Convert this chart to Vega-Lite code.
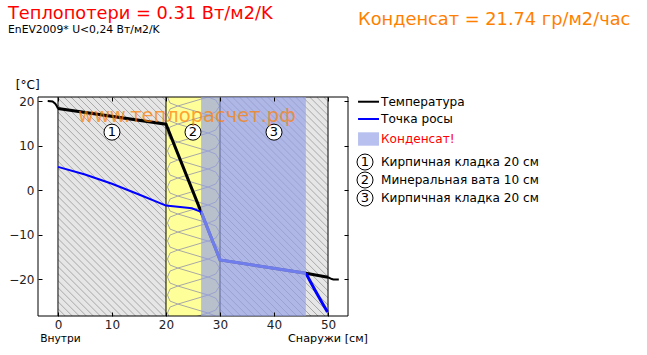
{
"$schema":"https://vega.github.io/schema/vega-lite/v6.json",
"width":310,"height":219,
"autosize":{"type":"none"},
"padding":{"left":38,"top":97,"right":299,"bottom":39},
"background":"white",
"config":{"view":{"stroke":null},"font":"DejaVu Sans"},
"datasets":{
"zones":[
{"m":"brick","x":0,"x2":20,"y":20.9,"y2":-28.3},
{"m":"brick","x":30,"x2":50,"y":20.9,"y2":-28.3},
{"m":"air","x":-3.7,"x2":0,"y":20.9,"y2":-28.3},
{"m":"air","x":50,"x2":53.7,"y":20.9,"y2":-28.3},
{"m":"wool","x":20,"x2":30,"y":20.9,"y2":-28.3},
{"m":"cond","x":26.5,"x2":45.9,"y":20.9,"y2":-28.3},
{"m":"cond","x":55.56,"x2":59.44,"y":12.97,"y2":9.96}
],
"hatch":[
{"x":-40.5,"x2":0.05,"y":20.9,"y2":-28.3},{"x":-39.2,"x2":1.35,"y":20.9,"y2":-28.3},{"x":-37.9,"x2":2.65,"y":20.9,"y2":-28.3},{"x":-36.6,"x2":3.95,"y":20.9,"y2":-28.3},{"x":-35.3,"x2":5.25,"y":20.9,"y2":-28.3},{"x":-34,"x2":6.55,"y":20.9,"y2":-28.3},{"x":-32.7,"x2":7.85,"y":20.9,"y2":-28.3},{"x":-31.4,"x2":9.15,"y":20.9,"y2":-28.3},{"x":-30.1,"x2":10.45,"y":20.9,"y2":-28.3},{"x":-28.8,"x2":11.75,"y":20.9,"y2":-28.3},{"x":-27.5,"x2":13.05,"y":20.9,"y2":-28.3},{"x":-26.2,"x2":14.35,"y":20.9,"y2":-28.3},{"x":-24.9,"x2":15.65,"y":20.9,"y2":-28.3},{"x":-23.6,"x2":16.95,"y":20.9,"y2":-28.3},{"x":-22.3,"x2":18.25,"y":20.9,"y2":-28.3},{"x":-21,"x2":19.55,"y":20.9,"y2":-28.3},{"x":-19.7,"x2":20.85,"y":20.9,"y2":-28.3},{"x":-18.4,"x2":22.15,"y":20.9,"y2":-28.3},{"x":-17.1,"x2":23.45,"y":20.9,"y2":-28.3},{"x":-15.8,"x2":24.75,"y":20.9,"y2":-28.3},{"x":-14.5,"x2":26.05,"y":20.9,"y2":-28.3},{"x":-13.2,"x2":27.35,"y":20.9,"y2":-28.3},{"x":-11.9,"x2":28.65,"y":20.9,"y2":-28.3},{"x":-10.6,"x2":29.95,"y":20.9,"y2":-28.3},{"x":-9.3,"x2":31.25,"y":20.9,"y2":-28.3},{"x":-8,"x2":32.55,"y":20.9,"y2":-28.3},{"x":-6.7,"x2":33.85,"y":20.9,"y2":-28.3},{"x":-5.4,"x2":35.15,"y":20.9,"y2":-28.3},{"x":-4.1,"x2":36.45,"y":20.9,"y2":-28.3},{"x":-2.8,"x2":37.75,"y":20.9,"y2":-28.3},{"x":-1.5,"x2":39.05,"y":20.9,"y2":-28.3},{"x":-0.2,"x2":40.35,"y":20.9,"y2":-28.3},{"x":1.1,"x2":41.65,"y":20.9,"y2":-28.3},{"x":2.4,"x2":42.95,"y":20.9,"y2":-28.3},{"x":3.7,"x2":44.25,"y":20.9,"y2":-28.3},{"x":5,"x2":45.55,"y":20.9,"y2":-28.3},{"x":6.3,"x2":46.85,"y":20.9,"y2":-28.3},{"x":7.6,"x2":48.15,"y":20.9,"y2":-28.3},{"x":8.9,"x2":49.45,"y":20.9,"y2":-28.3},{"x":10.2,"x2":50.75,"y":20.9,"y2":-28.3},{"x":11.5,"x2":52.05,"y":20.9,"y2":-28.3},{"x":12.8,"x2":53.35,"y":20.9,"y2":-28.3},{"x":14.1,"x2":54.65,"y":20.9,"y2":-28.3},{"x":15.4,"x2":55.95,"y":20.9,"y2":-28.3},{"x":16.7,"x2":57.25,"y":20.9,"y2":-28.3},{"x":18,"x2":58.55,"y":20.9,"y2":-28.3},{"x":19.3,"x2":59.85,"y":20.9,"y2":-28.3},{"x":20.6,"x2":61.15,"y":20.9,"y2":-28.3},{"x":21.9,"x2":62.45,"y":20.9,"y2":-28.3},{"x":23.2,"x2":63.75,"y":20.9,"y2":-28.3},{"x":24.5,"x2":65.05,"y":20.9,"y2":-28.3},{"x":25.8,"x2":66.35,"y":20.9,"y2":-28.3},{"x":27.1,"x2":67.65,"y":20.9,"y2":-28.3},{"x":28.4,"x2":68.95,"y":20.9,"y2":-28.3},{"x":29.7,"x2":70.25,"y":20.9,"y2":-28.3},{"x":31,"x2":71.55,"y":20.9,"y2":-28.3},{"x":32.3,"x2":72.85,"y":20.9,"y2":-28.3},{"x":33.6,"x2":74.15,"y":20.9,"y2":-28.3},{"x":34.9,"x2":75.45,"y":20.9,"y2":-28.3},{"x":36.2,"x2":76.75,"y":20.9,"y2":-28.3},{"x":37.5,"x2":78.05,"y":20.9,"y2":-28.3},{"x":38.8,"x2":79.35,"y":20.9,"y2":-28.3},{"x":40.1,"x2":80.65,"y":20.9,"y2":-28.3},{"x":41.4,"x2":81.95,"y":20.9,"y2":-28.3},{"x":42.7,"x2":83.25,"y":20.9,"y2":-28.3},{"x":44,"x2":84.55,"y":20.9,"y2":-28.3},{"x":45.3,"x2":85.85,"y":20.9,"y2":-28.3},{"x":46.6,"x2":87.15,"y":20.9,"y2":-28.3},{"x":47.9,"x2":88.45,"y":20.9,"y2":-28.3},{"x":49.2,"x2":89.75,"y":20.9,"y2":-28.3}
],
"woolpath":[
{"i":1,"x":20.28,"y":20.9},{"i":2,"x":20.74,"y":19.55},{"i":3,"x":22.2,"y":18.88},{"i":4,"x":27.8,"y":20.9},{"i":5,"x":29.2,"y":20.23},{"i":6,"x":29.9,"y":18.88},{"i":7,"x":29.2,"y":17.53},{"i":8,"x":27.8,"y":16.86},{"i":9,"x":22.2,"y":18.88},{"i":10,"x":20.74,"y":18.2},
{"i":11,"x":20.28,"y":16.85},{"i":12,"x":20.74,"y":15.5},{"i":13,"x":22.2,"y":14.83},{"i":14,"x":27.8,"y":16.85},{"i":15,"x":29.2,"y":16.18},{"i":16,"x":29.9,"y":14.83},{"i":17,"x":29.2,"y":13.48},{"i":18,"x":27.8,"y":12.81},{"i":19,"x":22.2,"y":14.83},{"i":20,"x":20.74,"y":14.15},
{"i":21,"x":20.28,"y":12.81},{"i":22,"x":20.74,"y":11.46},{"i":23,"x":22.2,"y":10.79},{"i":24,"x":27.8,"y":12.81},{"i":25,"x":29.2,"y":12.14},{"i":26,"x":29.9,"y":10.79},{"i":27,"x":29.2,"y":9.44},{"i":28,"x":27.8,"y":8.77},{"i":29,"x":22.2,"y":10.79},{"i":30,"x":20.74,"y":10.11},
{"i":31,"x":20.28,"y":8.76},{"i":32,"x":20.74,"y":7.41},{"i":33,"x":22.2,"y":6.74},{"i":34,"x":27.8,"y":8.76},{"i":35,"x":29.2,"y":8.09},{"i":36,"x":29.9,"y":6.74},{"i":37,"x":29.2,"y":5.39},{"i":38,"x":27.8,"y":4.72},{"i":39,"x":22.2,"y":6.74},{"i":40,"x":20.74,"y":6.06},
{"i":41,"x":20.28,"y":4.72},{"i":42,"x":20.74,"y":3.37},{"i":43,"x":22.2,"y":2.7},{"i":44,"x":27.8,"y":4.72},{"i":45,"x":29.2,"y":4.05},{"i":46,"x":29.9,"y":2.7},{"i":47,"x":29.2,"y":1.35},{"i":48,"x":27.8,"y":0.68},{"i":49,"x":22.2,"y":2.7},{"i":50,"x":20.74,"y":2.02},
{"i":51,"x":20.28,"y":0.67},{"i":52,"x":20.74,"y":-0.68},{"i":53,"x":22.2,"y":-1.35},{"i":54,"x":27.8,"y":0.67},{"i":55,"x":29.2,"y":0},{"i":56,"x":29.9,"y":-1.35},{"i":57,"x":29.2,"y":-2.7},{"i":58,"x":27.8,"y":-3.37},{"i":59,"x":22.2,"y":-1.35},{"i":60,"x":20.74,"y":-2.03},
{"i":61,"x":20.28,"y":-3.37},{"i":62,"x":20.74,"y":-4.72},{"i":63,"x":22.2,"y":-5.39},{"i":64,"x":27.8,"y":-3.37},{"i":65,"x":29.2,"y":-4.04},{"i":66,"x":29.9,"y":-5.39},{"i":67,"x":29.2,"y":-6.74},{"i":68,"x":27.8,"y":-7.41},{"i":69,"x":22.2,"y":-5.39},{"i":70,"x":20.74,"y":-6.07},
{"i":71,"x":20.28,"y":-7.42},{"i":72,"x":20.74,"y":-8.77},{"i":73,"x":22.2,"y":-9.44},{"i":74,"x":27.8,"y":-7.42},{"i":75,"x":29.2,"y":-8.09},{"i":76,"x":29.9,"y":-9.44},{"i":77,"x":29.2,"y":-10.79},{"i":78,"x":27.8,"y":-11.46},{"i":79,"x":22.2,"y":-9.44},{"i":80,"x":20.74,"y":-10.12},
{"i":81,"x":20.28,"y":-11.46},{"i":82,"x":20.74,"y":-12.81},{"i":83,"x":22.2,"y":-13.48},{"i":84,"x":27.8,"y":-11.46},{"i":85,"x":29.2,"y":-12.13},{"i":86,"x":29.9,"y":-13.48},{"i":87,"x":29.2,"y":-14.83},{"i":88,"x":27.8,"y":-15.5},{"i":89,"x":22.2,"y":-13.48},{"i":90,"x":20.74,"y":-14.16},
{"i":91,"x":20.28,"y":-15.51},{"i":92,"x":20.74,"y":-16.86},{"i":93,"x":22.2,"y":-17.53},{"i":94,"x":27.8,"y":-15.51},{"i":95,"x":29.2,"y":-16.18},{"i":96,"x":29.9,"y":-17.53},{"i":97,"x":29.2,"y":-18.88},{"i":98,"x":27.8,"y":-19.55},{"i":99,"x":22.2,"y":-17.53},{"i":100,"x":20.74,"y":-18.21},
{"i":101,"x":20.28,"y":-19.55},{"i":102,"x":20.74,"y":-20.9},{"i":103,"x":22.2,"y":-21.57},{"i":104,"x":27.8,"y":-19.55},{"i":105,"x":29.2,"y":-20.22},{"i":106,"x":29.9,"y":-21.57},{"i":107,"x":29.2,"y":-22.92},{"i":108,"x":27.8,"y":-23.59},{"i":109,"x":22.2,"y":-21.57},{"i":110,"x":20.74,"y":-22.25},
{"i":111,"x":20.28,"y":-23.6},{"i":112,"x":20.74,"y":-24.95},{"i":113,"x":22.2,"y":-25.62},{"i":114,"x":27.8,"y":-23.6},{"i":115,"x":29.2,"y":-24.27},{"i":116,"x":29.9,"y":-25.62},{"i":117,"x":29.2,"y":-26.97},{"i":118,"x":27.8,"y":-27.64},{"i":119,"x":22.2,"y":-25.62},{"i":120,"x":20.74,"y":-26.3},
{"i":121,"x":20.28,"y":-27.64},{"i":122,"x":20.74,"y":-28.99},{"i":123,"x":22.2,"y":-29.66},{"i":124,"x":27.8,"y":-27.64},{"i":125,"x":29.2,"y":-28.31},{"i":126,"x":29.9,"y":-29.66}
],
"bounds":[
{"x":0,"x2":0,"y":20.9,"y2":-28.3},{"x":20,"x2":20,"y":20.9,"y2":-28.3},{"x":30,"x2":30,"y":20.9,"y2":-28.3},{"x":50,"x2":50,"y":20.9,"y2":-28.3},
{"x":-3.7,"x2":-3.7,"y":20.9,"y2":-28.3},{"x":53.7,"x2":53.7,"y":20.9,"y2":-28.3},
{"x":-3.7,"x2":53.7,"y":20.9,"y2":20.9},{"x":-3.7,"x2":53.7,"y":-28.3,"y2":-28.3}
],
"temperature":[
{"x":-1.9,"y":20},{"x":-1,"y":19.9},{"x":-0.5,"y":19.4},{"x":-0.2,"y":18.8},{"x":0,"y":18.3},{"x":20,"y":14.8},{"x":26.5,"y":-4.9},{"x":30,"y":-15.7},{"x":45.9,"y":-18.7},{"x":50,"y":-19.6},{"x":50.7,"y":-20},{"x":51,"y":-20.1},{"x":52,"y":-20.1}
],
"dewpoint":[
{"x":0,"y":5.2},{"x":5,"y":3.5},{"x":10,"y":1.4},{"x":15,"y":-1},{"x":20,"y":-3.5},{"x":24.8,"y":-4.1},{"x":26.5,"y":-4.9},{"x":30,"y":-15.7},{"x":45.9,"y":-18.7},{"x":47.6,"y":-22.5},{"x":48.8,"y":-25.1},{"x":49.9,"y":-27.4}
],
"legendlines":[
{"s":"t","x":55.56,"x2":59.44,"y":19.84},
{"s":"d","x":55.56,"x2":59.44,"y":15.96}
],
"badges":[
{"n":"1","x":10,"y":13},{"n":"2","x":25,"y":13},{"n":"3","x":40,"y":13},
{"n":"1","x":56.85,"y":6.29},{"n":"2","x":56.85,"y":2.25},{"n":"3","x":56.85,"y":-1.8}
],
"texts":[
{"r":"label","t":"[°C]","x":-7.8,"y":23.6},
{"r":"label","t":"Температура","x":59.81,"y":19.84},
{"r":"label","t":"Точка росы","x":59.81,"y":15.96},
{"r":"label","t":"Кирпичная кладка 20 см","x":59.81,"y":6.29},
{"r":"label","t":"Минеральная вата 10 см","x":59.81,"y":2.25},
{"r":"label","t":"Кирпичная кладка 20 см","x":59.81,"y":-1.8},
{"r":"alert","t":"Конденсат!","x":59.81,"y":11.57},
{"r":"foot","t":"Внутри","x":-3.3,"y":-33.4},
{"r":"sub","t":"EnEV2009* U<0,24 Вт/м2/K","x":-9.26,"y":35.96},
{"r":"headR","t":"Теплопотери = 0.31 Вт/м2/K","x":-9.26,"y":39.55},
{"r":"headO","t":"Конденсат = 21.74 гр/м2/час","x":55.56,"y":38.2},
{"r":"mark","t":"www.теплорасчет.рф","x":3.7,"y":16.6}
],
"footright":[{"t":"Снаружи [см]","x":57.4,"y":-33.4}]
},
"encoding":{
"x":{"field":"x","type":"quantitative","title":null,"axis":null,"scale":{"domain":[-3.7,53.7],"nice":false,"zero":false}},
"y":{"field":"y","type":"quantitative","title":null,"axis":null,"scale":{"domain":[-28.3,20.9],"nice":false,"zero":false}}
},
"resolve":{"axis":{"x":"independent","y":"independent"}},
"layer":[
{"data":{"name":"zones"},"transform":[{"filter":"datum.m==='brick'"}],"mark":{"type":"rect","color":"#e6e6e6"},"encoding":{"x2":{"field":"x2"},"y2":{"field":"y2"}}},
{"data":{"name":"hatch"},"mark":{"type":"rule","clip":true,"color":"#a8a8a8","strokeWidth":1},"encoding":{"x2":{"field":"x2"},"y2":{"field":"y2"}}},
{"data":{"name":"zones"},"transform":[{"filter":"datum.m==='air'"}],"mark":{"type":"rect","color":"#ffffff"},"encoding":{"x2":{"field":"x2"},"y2":{"field":"y2"}}},
{"data":{"name":"zones"},"transform":[{"filter":"datum.m==='wool'"}],"mark":{"type":"rect","color":"#ffff99"},"encoding":{"x2":{"field":"x2"},"y2":{"field":"y2"}}},
{"data":{"name":"woolpath"},"mark":{"type":"line","clip":true,"color":"#a8a8a8","strokeWidth":1},"encoding":{"order":{"field":"i","type":"quantitative"}}},
{"data":{"name":"bounds"},"mark":{"type":"rule","color":"#000000","strokeWidth":1},"encoding":{
"x":{"field":"x","type":"quantitative","title":null,"scale":{"domain":[-3.7,53.7],"nice":false,"zero":false},"axis":{"orient":"bottom","zindex":1,"values":[0,10,20,30,40,50],"domain":false,"grid":false,"tickSize":-4,"tickColor":"#000","labelPadding":7,"labelFontSize":12,"labelColor":"#222","labelFont":"DejaVu Sans","labelAngle":0,"labelFlush":false}},
"y":{"field":"y","type":"quantitative","title":null,"scale":{"domain":[-28.3,20.9],"nice":false,"zero":false},"axis":{"orient":"left","zindex":1,"values":[-20,-10,0,10,20],"domain":false,"grid":false,"tickSize":-4,"tickColor":"#000","labelPadding":8,"labelFontSize":12,"labelColor":"#222","labelFont":"DejaVu Sans"}},
"x2":{"field":"x2"},"y2":{"field":"y2"}}},
{"data":{"name":"bounds"},"mark":{"type":"rule","opacity":0},"encoding":{
"x":{"field":"x","type":"quantitative","title":null,"scale":{"domain":[-3.7,53.7],"nice":false,"zero":false},"axis":{"orient":"top","zindex":1,"values":[0,10,20,30,40,50],"domain":false,"grid":false,"tickSize":-4,"tickColor":"#000","labels":false}},
"y":{"field":"y","type":"quantitative","title":null,"scale":{"domain":[-28.3,20.9],"nice":false,"zero":false},"axis":{"orient":"right","zindex":1,"values":[-20,-10,0,10,20],"domain":false,"grid":false,"tickSize":-4,"tickColor":"#000","labels":false}},
"x2":{"field":"x2"},"y2":{"field":"y2"}}},
{"data":{"name":"temperature"},"transform":[{"filter":"datum.x<=0"}],"mark":{"type":"line","color":"#000000","strokeWidth":2}},
{"data":{"name":"temperature"},"transform":[{"filter":"datum.x>=50"}],"mark":{"type":"line","color":"#000000","strokeWidth":2}},
{"data":{"name":"temperature"},"transform":[{"filter":"datum.x>=0 && datum.x<=50"}],"mark":{"type":"line","color":"#000000","strokeWidth":3}},
{"data":{"name":"dewpoint"},"transform":[{"filter":"datum.x<=26.5"}],"mark":{"type":"line","color":"#0000ff","strokeWidth":2}},
{"data":{"name":"dewpoint"},"transform":[{"filter":"datum.x>=45.9"}],"mark":{"type":"line","color":"#0000ff","strokeWidth":3}},
{"data":{"name":"dewpoint"},"transform":[{"filter":"datum.x>=26.5 && datum.x<=45.9"}],"mark":{"type":"line","color":"#3040f8","strokeWidth":3}},
{"data":{"name":"zones"},"transform":[{"filter":"datum.m==='cond'"}],"mark":{"type":"rect","color":"#929ee7","opacity":0.65},"encoding":{"x2":{"field":"x2"},"y2":{"field":"y2"}}},
{"data":{"name":"legendlines"},"transform":[{"filter":"datum.s==='t'"}],"mark":{"type":"rule","color":"#000000","strokeWidth":2},"encoding":{"x2":{"field":"x2"}}},
{"data":{"name":"legendlines"},"transform":[{"filter":"datum.s==='d'"}],"mark":{"type":"rule","color":"#0000ff","strokeWidth":2},"encoding":{"x2":{"field":"x2"}}},
{"data":{"name":"badges"},"mark":{"type":"point","shape":"circle","filled":true,"fill":"#ffffff","stroke":"#000000","strokeWidth":1,"opacity":1,"size":256}},
{"data":{"name":"badges"},"mark":{"type":"text","fontSize":13,"font":"DejaVu Sans","color":"#000000","align":"center","baseline":"middle"},"encoding":{"text":{"field":"n"}}},
{"data":{"name":"texts"},"transform":[{"filter":"datum.r==='label'"}],"mark":{"type":"text","fontSize":12.1,"font":"DejaVu Sans","color":"#000000","align":"left","baseline":"middle"},"encoding":{"text":{"field":"t"}}},
{"data":{"name":"texts"},"transform":[{"filter":"datum.r==='foot'"}],"mark":{"type":"text","fontSize":10.7,"font":"DejaVu Sans","color":"#000000","align":"left","baseline":"middle"},"encoding":{"text":{"field":"t"}}},
{"data":{"name":"footright"},"mark":{"type":"text","fontSize":11.2,"font":"DejaVu Sans","color":"#000000","align":"right","baseline":"middle"},"encoding":{"text":{"field":"t"}}},
{"data":{"name":"texts"},"transform":[{"filter":"datum.r==='alert'"}],"mark":{"type":"text","fontSize":12.1,"font":"DejaVu Sans","color":"#ff0000","align":"left","baseline":"middle"},"encoding":{"text":{"field":"t"}}},
{"data":{"name":"texts"},"transform":[{"filter":"datum.r==='sub'"}],"mark":{"type":"text","fontSize":10.8,"font":"DejaVu Sans","color":"#000000","align":"left","baseline":"middle"},"encoding":{"text":{"field":"t"}}},
{"data":{"name":"texts"},"transform":[{"filter":"datum.r==='headR'"}],"mark":{"type":"text","fontSize":17.8,"font":"DejaVu Sans","color":"#ff0000","align":"left","baseline":"middle"},"encoding":{"text":{"field":"t"}}},
{"data":{"name":"texts"},"transform":[{"filter":"datum.r==='headO'"}],"mark":{"type":"text","fontSize":17.8,"font":"DejaVu Sans","color":"#ff8000","align":"left","baseline":"middle"},"encoding":{"text":{"field":"t"}}},
{"data":{"name":"texts"},"transform":[{"filter":"datum.r==='mark'"}],"mark":{"type":"text","fontSize":19.5,"font":"DejaVu Sans","color":"#ff8000","opacity":0.7,"align":"left","baseline":"middle"},"encoding":{"text":{"field":"t"}}}
]
}
